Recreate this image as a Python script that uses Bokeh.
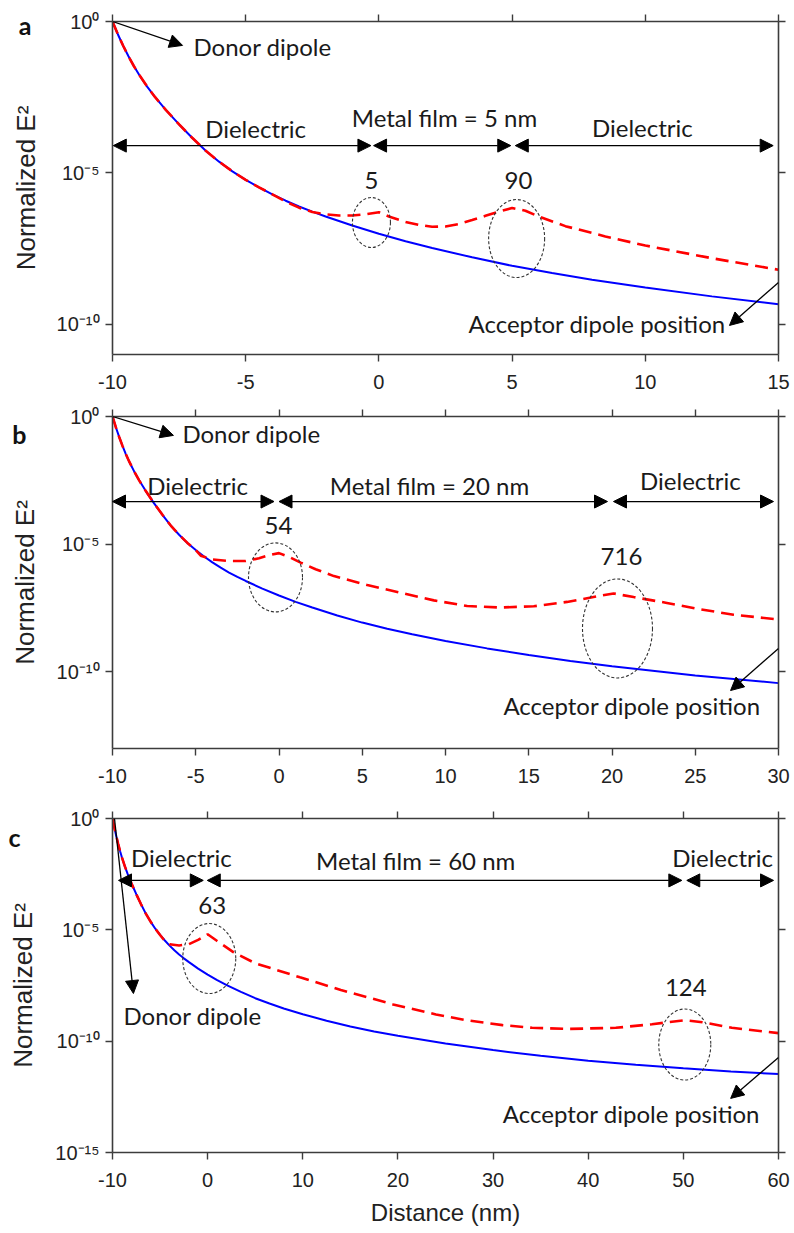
import numpy as np
from bokeh.plotting import figure
from bokeh.models import (Arrow, NormalHead, Label, LinearAxis, LogAxis, FixedTicker,
                          CustomJSTickFormatter, Range1d)
from bokeh.layouts import column
from bokeh.embed import file_html
from bokeh.resources import INLINE

# ---------------- data: log10(normalized E^2) versus distance (nm) ----------------
# panel a (metal film = 5 nm)
a_blue_x = [-10, -9.8, -9.6, -9.4, -9.2, -9.0, -8.7, -8.4, -8.0, -7.5, -7.0, -6.5, -6.0, -5.5, -5.0,
            -4.5, -4.0, -3.5, -3.0, -2.5, -2.0, -1.0, 0, 1, 2, 3.5, 5, 6.5, 8, 10, 12.5, 15]
a_blue_log = [0, -0.42, -0.8, -1.15, -1.47, -1.76, -2.15, -2.5, -2.92, -3.4, -3.85, -4.27, -4.63, -4.95,
              -5.23, -5.48, -5.71, -5.92, -6.11, -6.28, -6.44, -6.74, -7.01, -7.26, -7.48, -7.79, -8.07,
              -8.31, -8.53, -8.79, -9.08, -9.34]
a_red_x = [-10, -9.8, -9.6, -9.4, -9.2, -9.0, -8.7, -8.4, -8.0, -7.5, -7.0, -6.5, -6.0, -5.5, -5.0,
           -4.5, -4.0, -3.5, -3.0, -2.5, -2.0, -1.5, -1.0, -0.5, 0, 0.4, 1.0, 1.5, 2.0, 2.5, 3.0, 3.5,
           4.0, 4.5, 5.0, 5.5, 6.0, 7.0, 8.5, 10, 12.5, 15]
a_red_log = [0, -0.42, -0.8, -1.15, -1.47, -1.76, -2.15, -2.5, -2.92, -3.4, -3.85, -4.27, -4.63, -4.95,
             -5.23, -5.48, -5.71, -5.95, -6.15, -6.29, -6.37, -6.41, -6.41, -6.37, -6.3, -6.45, -6.62,
             -6.72, -6.78, -6.77, -6.69, -6.56, -6.42, -6.28, -6.16, -6.25, -6.44, -6.76, -7.1, -7.4,
             -7.82, -8.2]

# panel b (metal film = 20 nm)
b_blue_x = [-10, -9.8, -9.6, -9.4, -9.2, -9.0, -8.7, -8.4, -8.0, -7.5, -7.0, -6.5, -6.0, -5.5, -5.0,
            -4.5, -4.0, -3.5, -3.0, -2.5, -2.0, -1.0, 0, 1, 2, 3.5, 5, 6.5, 8, 10, 12.5, 15, 17.5,
            20, 25, 30]
b_blue_log = [0, -0.42, -0.8, -1.15, -1.47, -1.76, -2.15, -2.5, -2.92, -3.4, -3.85, -4.27, -4.63, -4.95,
              -5.23, -5.48, -5.71, -5.92, -6.11, -6.28, -6.44, -6.74, -7.01, -7.26, -7.48, -7.79, -8.07,
              -8.31, -8.53, -8.79, -9.08, -9.34, -9.57, -9.78, -10.14, -10.44]
b_red_x = [-10, -9.8, -9.6, -9.4, -9.2, -9.0, -8.7, -8.4, -8.0, -7.5, -7.0, -6.5, -6.0, -5.5, -5.0,
           -4.7, -4.0, -3.0, -2.0, -1.2, -0.6, 0, 0.6, 1.3, 2.2, 3.3, 5.3, 7.3, 9.3, 11.3, 13.3, 15.3,
           17.3, 19.3, 20.1, 21.3, 23.3, 25.3, 27.3, 30]
b_red_log = [0, -0.42, -0.8, -1.15, -1.47, -1.76, -2.15, -2.5, -2.92, -3.4, -3.85, -4.27, -4.63, -4.95,
             -5.23, -5.45, -5.6, -5.66, -5.66, -5.55, -5.43, -5.35, -5.5, -5.72, -5.98, -6.25, -6.6,
             -6.9, -7.2, -7.42, -7.48, -7.43, -7.26, -7.02, -6.93, -7.07, -7.3, -7.55, -7.76, -7.95]

# panel c (metal film = 60 nm)
c_blue_x = [-10, -9.8, -9.6, -9.4, -9.2, -9.0, -8.7, -8.4, -8.0, -7.5, -7.0, -6.5, -6.0, -5.5, -5.0,
            -4.5, -4.0, -3.5, -3.0, -2.5, -2.0, -1.0, 0, 1, 2, 3.5, 5, 6.5, 8, 10, 12.5, 15, 17.5,
            20, 25, 30, 35, 40, 45, 50, 55, 60]
c_blue_log = [0, -0.42, -0.8, -1.15, -1.47, -1.76, -2.15, -2.5, -2.92, -3.4, -3.85, -4.27, -4.63, -4.95,
              -5.23, -5.48, -5.71, -5.92, -6.11, -6.28, -6.44, -6.74, -7.01, -7.26, -7.48, -7.79, -8.07,
              -8.31, -8.53, -8.79, -9.08, -9.34, -9.57, -9.76, -10.1, -10.4, -10.66, -10.88, -11.06,
              -11.22, -11.36, -11.48]
c_red_x = [-10, -9.8, -9.6, -9.4, -9.2, -9.0, -8.7, -8.4, -8.0, -7.5, -7.0, -6.5, -6.0, -5.5, -5.0,
           -4.5, -4.0, -3.0, -2.0, -1.0, 0, 1, 2.7, 5, 9.7, 14, 19.5, 24, 27.2, 31, 34.1, 38, 42.9,
           46.7, 50.1, 52, 55.1, 60]
c_red_log = [0, -0.42, -0.8, -1.15, -1.47, -1.76, -2.15, -2.5, -2.92, -3.4, -3.85, -4.27, -4.63, -4.95,
             -5.23, -5.5, -5.65, -5.7, -5.65, -5.45, -5.2, -5.5, -6.0, -6.5, -7.13, -7.7, -8.35, -8.8,
             -9.06, -9.28, -9.4, -9.45, -9.4, -9.24, -9.06, -9.15, -9.4, -9.64]

# axes ticks and labels
x_ticks_a = [-10, -5, 0, 5, 10, 15]
x_labels_a = ["-10", "-5", "0", "5", "10", "15"]
x_ticks_b = [-10, -5, 0, 5, 10, 15, 20, 25, 30]
x_labels_b = ["-10", "-5", "0", "5", "10", "15", "20", "25", "30"]
x_ticks_c = [-10, 0, 10, 20, 30, 40, 50, 60]
x_labels_c = ["-10", "0", "10", "20", "30", "40", "50", "60"]
y_exps_ab = [0, -5, -10]
y_exps_c = [0, -5, -10, -15]
y_tick_labels = {0: "10\u2070", -5: "10\u207b\u2075", -10: "10\u207b\u00b9\u2070", -15: "10\u207b\u00b9\u2075"}
y_label = "Normalized E\u00b2"
x_label = "Distance (nm)"
panel_letters = ["a", "b", "c"]
enhancement_a = ["5", "90"]
enhancement_b = ["54", "716"]
enhancement_c = ["63", "124"]

AX_FONT = "Liberation Sans"
TXT_FONT = "Lato"
AX_COL = "#3c3c3c"


def style_axis(ax):
    ax.axis_line_color = AX_COL
    ax.axis_line_width = 1.6
    ax.major_tick_line_color = AX_COL
    ax.major_tick_line_width = 1.4
    ax.major_tick_in = 0
    ax.major_tick_out = 7
    ax.minor_tick_line_color = None
    ax.major_label_text_font = AX_FONT
    ax.major_label_text_color = "#222222"
    ax.major_label_text_font_size = "20px"


def make_panel(h, bt, bb, xr, yr_exp, xticks, xlabels, yexps, letter, letter_log, letter_standoff,
               ylab_standoff, xlab=None):
    p = figure(width=794, height=h, x_range=Range1d(*xr),
               y_range=Range1d(10.0 ** yr_exp[0], 10.0 ** yr_exp[1]),
               y_axis_type="log", output_backend="svg", toolbar_location=None,
               min_border_left=112, min_border_right=16, min_border_top=bt, min_border_bottom=bb)
    p.outline_line_color = None
    p.xgrid.visible = False
    p.ygrid.visible = False
    yt = [10.0 ** e for e in yexps]
    yfmt = CustomJSTickFormatter(args=dict(exps=list(yexps), lbls=[y_tick_labels[e] for e in yexps]),
                                 code="""
        const e = Math.round(Math.log10(tick));
        const i = exps.indexOf(e);
        return i >= 0 ? lbls[i] : "";
    """)
    xfmt = CustomJSTickFormatter(args=dict(tv=list(xticks), lbls=list(xlabels)), code="""
        let best = -1, d = 1e9;
        for (let i = 0; i < tv.length; i++) {
            const dd = Math.abs(tv[i] - tick);
            if (dd < d) { d = dd; best = i; }
        }
        return d < 1e-6 ? lbls[best] : "";
    """)
    xa = p.below[0]
    ya = p.left[0]
    xa.ticker = FixedTicker(ticks=xticks)
    xa.formatter = xfmt
    ya.ticker = FixedTicker(ticks=yt)
    ya.formatter = yfmt
    style_axis(xa)
    style_axis(ya)
    if xlab:
        xa.axis_label = xlab
        xa.axis_label_text_font = AX_FONT
        xa.axis_label_text_font_size = "24px"
        xa.axis_label_text_font_style = "normal"
        xa.axis_label_standoff = 9
        xa.axis_label_text_color = "#222222"
    xa.major_label_standoff = 13
    ya.major_label_standoff = 6
    # outer left axis: carries the panel letter and the y axis title
    la = LogAxis(ticker=FixedTicker(ticks=[10.0 ** letter_log]),
                 formatter=CustomJSTickFormatter(args=dict(letter=letter), code="return letter;"))
    la.axis_line_color = None
    la.major_tick_line_color = None
    la.minor_tick_line_color = None
    la.major_tick_in = 0
    la.major_tick_out = 0
    la.major_label_standoff = letter_standoff
    la.major_label_text_font = TXT_FONT
    la.major_label_text_font_size = "25px"
    la.major_label_text_font_style = "bold"
    la.major_label_text_color = "#111111"
    la.axis_label = y_label
    la.axis_label_text_font = AX_FONT
    la.axis_label_text_font_size = "26px"
    la.axis_label_text_font_style = "normal"
    la.axis_label_standoff = ylab_standoff
    la.axis_label_text_color = "#222222"
    p.add_layout(la, "left")
    top = LinearAxis(ticker=FixedTicker(ticks=xticks))
    right = LogAxis(ticker=FixedTicker(ticks=yt))
    for ax in (top, right):
        style_axis(ax)
        ax.major_label_text_font_size = "2px"
        ax.major_label_text_color = None
        ax.major_label_standoff = 0
    p.add_layout(top, "above")
    p.add_layout(right, "right")
    return p


def draw_curves(p, bx, by, rx, ry):
    p.line(bx, [10.0 ** v for v in by], line_color="#0000ff", line_width=2)
    p.line(rx, [10.0 ** v for v in ry], line_color="#ff0000", line_width=2.6, line_dash="13 7")


def text(p, s, x, lg, align="center", size="24px"):
    p.add_layout(Label(x=x, y=10.0 ** lg, text=s, text_font=TXT_FONT, text_font_size=size,
                       text_align=align, text_baseline="middle", text_color="#1a1a1a"))


def head():
    return NormalHead(size=13, fill_color="black", line_color="black", line_width=1)


def arrow(p, x0, l0, x1, l1, double=False):
    kw = dict(x_start=x0, y_start=10.0 ** l0, x_end=x1, y_end=10.0 ** l1, end=head(),
              line_color="black", line_width=1.3)
    if double:
        kw["start"] = head()
    p.add_layout(Arrow(**kw))


def ellipses(p, xs, ls, ws, hs):
    p.ellipse(x=xs, y=[10.0 ** v for v in ls], width=ws, height=hs,
              width_units="screen", height_units="screen",
              fill_color=None, line_color="#333333", line_width=1.1, line_dash="3 2")


# ---------------- panel a ----------------
pa = make_panel(400, 21, 46, (-10, 15), (-11, 0), x_ticks_a, x_labels_a, y_exps_ab,
                panel_letters[0], -0.13, 22, -25)
draw_curves(pa, a_blue_x, a_blue_log, a_red_x, a_red_log)
ellipses(pa, [-0.28, 5.17], [-6.64, -7.17], [38, 56], [50, 78])
arrow(pa, -10, 0, -7.37, -0.79)
text(pa, "Donor dipole", -6.96, -0.83, align="left")
arrow(pa, -9.97, -4.10, -0.3, -4.10, True)
arrow(pa, -0.2, -4.10, 4.95, -4.10, True)
arrow(pa, 5.12, -4.10, 14.8, -4.10, True)
text(pa, "Dielectric", -4.63, -3.53)
text(pa, "Metal film = 5 nm", 2.46, -3.17)
text(pa, "Dielectric", 9.89, -3.50)
text(pa, enhancement_a[0], -0.28, -5.25)
text(pa, enhancement_a[1], 5.24, -5.25)
text(pa, "Acceptor dipole position", 8.19, -9.98)
arrow(pa, 15.0, -8.62, 13.16, -10.04)

# ---------------- panel b ----------------
pb = make_panel(400, 16, 52, (-10, 30), (-13, 0), x_ticks_b, x_labels_b, y_exps_ab,
                panel_letters[1], -0.67, 27, -31)
draw_curves(pb, b_blue_x, b_blue_log, b_red_x, b_red_log)
ellipses(pb, [-0.21, 20.33], [-6.30, -8.30], [54, 70], [69, 99])
arrow(pb, -10, 0, -6.34, -0.74)
text(pb, "Donor dipole", -5.80, -0.67, align="left")
arrow(pb, -10, -3.33, -0.3, -3.33, True)
arrow(pb, 0.0, -3.33, 19.73, -3.33, True)
arrow(pb, 20.09, -3.33, 29.7, -3.33, True)
text(pb, "Dielectric", -4.89, -2.70)
text(pb, "Metal film = 20 nm", 9.04, -2.70)
text(pb, "Dielectric", 24.71, -2.51)
text(pb, enhancement_b[0], -0.03, -4.27)
text(pb, enhancement_b[1], 20.57, -5.48)
text(pb, "Acceptor dipole position", 21.2, -11.32)
arrow(pb, 30.0, -9.08, 27.12, -10.73)

# ---------------- panel c ----------------
pc = make_panel(433, 18, 81, (-10, 60), (-15, 0), x_ticks_c, x_labels_c, y_exps_c,
                panel_letters[2], -0.81, 32, -33, xlab=x_label)
draw_curves(pc, c_blue_x, c_blue_log, c_red_x, c_red_log)
ellipses(pc, [0.17, 50.15], [-6.29, -10.15], [53, 52], [70, 71])
arrow(pc, -9.37, -2.78, -0.46, -2.78, True)
arrow(pc, -0.04, -2.78, 49.84, -2.78, True)
arrow(pc, 50.36, -2.78, 59.48, -2.78, True)
text(pc, "Dielectric", -2.77, -1.75)
text(pc, "Metal film = 60 nm", 21.86, -1.89)
text(pc, "Dielectric", 54.13, -1.75)
text(pc, enhancement_c[0], 0.48, -3.91)
text(pc, enhancement_c[1], 50.26, -7.59)
arrow(pc, -9.79, 0.0, -7.80, -7.86)
text(pc, "Donor dipole", -8.85, -8.85, align="left")
text(pc, "Acceptor dipole position", 44.54, -13.25)
arrow(pc, 60.0, -10.73, 54.97, -12.57)

layout = column(pa, pb, pc, spacing=0)
open("out.html", "w", encoding="utf-8").write(file_html(layout, INLINE))
